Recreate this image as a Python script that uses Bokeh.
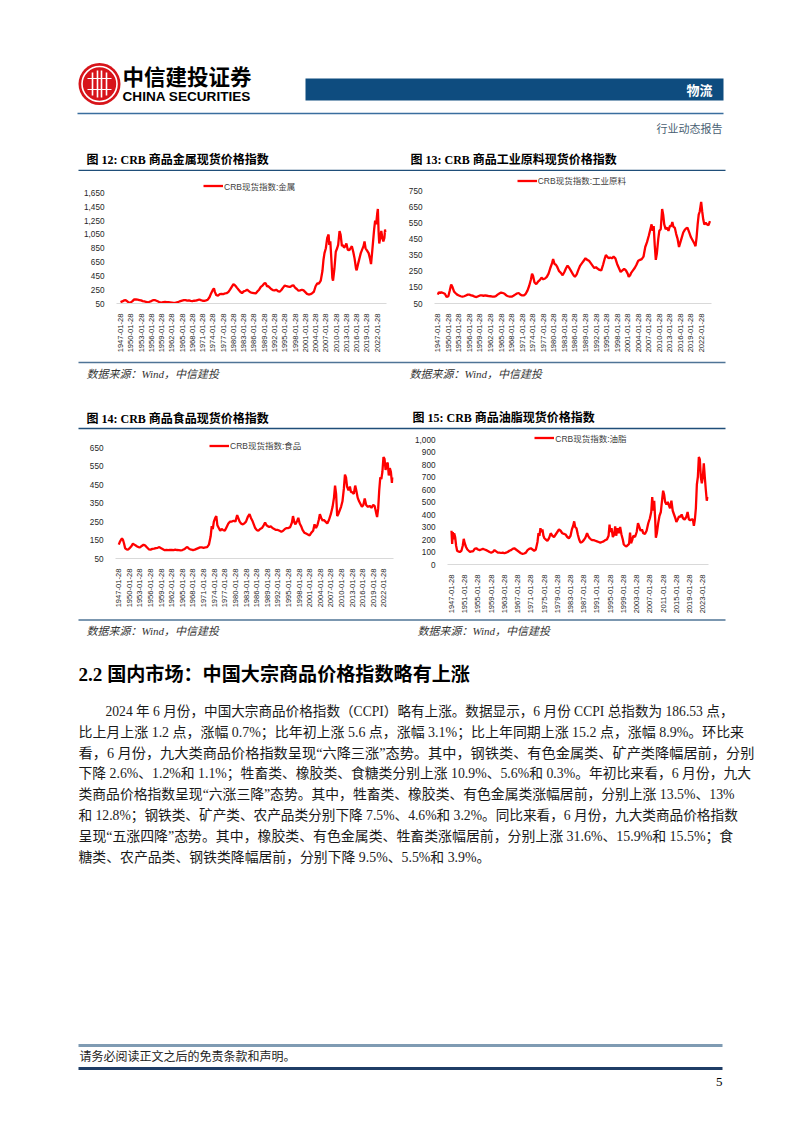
import math
from bokeh.plotting import figure
from bokeh.layouts import column, row
from bokeh.models import Range1d, FixedTicker, Legend, LegendItem, NumeralTickFormatter
from bokeh.core.properties import value
from bokeh.embed import file_html
from bokeh.resources import INLINE

# ---------------- data ----------------
tick_years_3 = [1947, 1950, 1953, 1956, 1959, 1962, 1965, 1968, 1971, 1974, 1977, 1980, 1983,
                1986, 1989, 1992, 1995, 1998, 2001, 2004, 2007, 2010, 2013, 2016, 2019, 2022]
tick_labels_3 = ["1947-01-28", "1950-01-28", "1953-01-28", "1956-01-28", "1959-01-28", "1962-01-28",
                 "1965-01-28", "1968-01-28", "1971-01-28", "1974-01-28", "1977-01-28", "1980-01-28",
                 "1983-01-28", "1986-01-28", "1989-01-28", "1992-01-28", "1995-01-28", "1998-01-28",
                 "2001-01-28", "2004-01-28", "2007-01-28", "2010-01-28", "2013-01-28", "2016-01-28",
                 "2019-01-28", "2022-01-28"]
tick_years_4 = [1947, 1951, 1955, 1959, 1963, 1967, 1971, 1975, 1979, 1983, 1987, 1991, 1995,
                1999, 2003, 2007, 2011, 2015, 2019, 2023]
tick_labels_4 = ["1947-01-28", "1951-01-28", "1955-01-28", "1959-01-28", "1963-01-28", "1967-01-28",
                 "1971-01-28", "1975-01-28", "1979-01-28", "1983-01-28", "1987-01-28", "1991-01-28",
                 "1995-01-28", "1999-01-28", "2003-01-28", "2007-01-28", "2011-01-28", "2015-01-28",
                 "2019-01-28", "2023-01-28"]

metal_yticks = [50, 250, 450, 650, 850, 1050, 1250, 1450, 1650]
industrial_yticks = [50, 150, 250, 350, 450, 550, 650, 750]
food_yticks = [50, 150, 250, 350, 450, 550, 650]
oil_yticks = [0, 100, 200, 300, 400, 500, 600, 700, 800, 900, 1000]

metal_year = [1947.0, 1947.5, 1948.0, 1948.5, 1949.0, 1949.5, 1950.0, 1950.5, 1951.0, 1951.5, 1952.0, 1952.5,
              1953.0, 1953.5, 1954.0, 1954.5, 1955.0, 1955.5, 1956.0, 1956.5, 1957.0, 1957.5, 1958.0, 1958.5,
              1959.0, 1959.5, 1960.0, 1960.5, 1961.0, 1961.5, 1962.0, 1962.5, 1963.0, 1963.5, 1964.0, 1964.5,
              1965.0, 1965.5, 1966.0, 1966.5, 1967.0, 1967.5, 1968.0, 1968.5, 1969.0, 1969.5, 1970.0, 1970.5,
              1971.0, 1971.5, 1972.0, 1972.5, 1973.0, 1973.5, 1974.0, 1974.3, 1974.6, 1975.0, 1975.5, 1976.0,
              1976.5, 1977.0, 1977.5, 1978.0, 1978.5, 1979.0, 1979.5, 1980.0, 1980.3, 1980.7, 1981.0, 1981.5,
              1982.0, 1982.5, 1983.0, 1983.5, 1984.0, 1984.5, 1985.0, 1985.5, 1986.0, 1986.5, 1987.0, 1987.5,
              1988.0, 1988.5, 1989.0, 1989.4, 1989.8, 1990.2, 1990.6, 1991.0, 1991.5, 1992.0, 1992.5, 1993.0,
              1993.5, 1994.0, 1994.5, 1995.0, 1995.5, 1996.0, 1996.5, 1997.0, 1997.5, 1998.0, 1998.5, 1999.0,
              1999.5, 2000.0, 2000.5, 2001.0, 2001.5, 2002.0, 2002.5, 2003.0, 2003.5, 2004.0, 2004.5, 2005.0,
              2005.5, 2006.0, 2006.3, 2006.6, 2007.0, 2007.4, 2007.8, 2008.0, 2008.3, 2008.6, 2008.9, 2009.1,
              2009.5, 2009.9, 2010.3, 2010.6, 2011.0, 2011.3, 2011.7, 2012.0, 2012.3, 2012.7, 2013.0, 2013.4,
              2013.8, 2014.2, 2014.6, 2015.0, 2015.4, 2015.8, 2016.0, 2016.4, 2016.8, 2017.2, 2017.6, 2018.0,
              2018.3, 2018.6, 2019.0, 2019.5, 2019.9, 2020.2, 2020.5, 2020.8, 2021.1, 2021.4, 2021.7, 2022.0,
              2022.2, 2022.4, 2022.6, 2022.9, 2023.2, 2023.5, 2023.8, 2024.1, 2024.3, 2024.5]
metal_value = [70, 80, 95, 100, 80, 60, 65, 85, 110, 108, 105, 100,
               95, 85, 80, 72, 65, 75, 85, 98, 100, 90, 78, 65,
               62, 70, 72, 68, 70, 66, 62, 58, 60, 68, 75, 85,
               92, 98, 100, 92, 95, 88, 85, 90, 92, 100, 108, 98,
               90, 88, 95, 105, 140, 200, 250, 270, 215, 170, 165, 185,
               190, 185, 195, 200, 215, 250, 290, 330, 320, 300, 280, 250,
               220, 200, 225, 235, 250, 230, 210, 205, 200, 195, 225, 250,
               290, 310, 340, 345, 300, 300, 280, 260, 245, 240, 250, 230,
               220, 245, 280, 310, 300, 295, 290, 305, 315, 280, 260, 235,
               240, 250, 240, 215, 190, 180, 185, 200, 220, 300, 340, 340,
               380, 520, 680, 780, 850, 1000, 1050, 900, 950, 700, 420, 380,
               550, 800, 850, 900, 1100, 1050, 880, 900, 860, 880, 920, 830,
               820, 850, 880, 800, 700, 560, 530, 620, 700, 780, 830, 880,
               950, 850, 820, 780, 700, 620, 780, 950, 1120, 1250, 1200, 1350,
               1420, 1100, 920, 1000, 1100, 1000, 950, 1000, 1120, 1080]

industrial_year = [1947.0, 1947.3, 1947.7, 1948.0, 1948.5, 1949.0, 1949.5, 1950.0, 1950.4, 1950.8, 1951.2, 1951.6,
                   1952.0, 1952.5, 1953.0, 1953.5, 1954.0, 1954.5, 1955.0, 1955.5, 1956.0, 1956.5, 1957.0, 1957.5,
                   1958.0, 1958.5, 1959.0, 1959.5, 1960.0, 1960.5, 1961.0, 1961.5, 1962.0, 1962.5, 1963.0, 1963.5,
                   1964.0, 1964.5, 1965.0, 1965.5, 1966.0, 1966.5, 1967.0, 1967.5, 1968.0, 1968.5, 1969.0, 1969.5,
                   1970.0, 1970.5, 1971.0, 1971.5, 1972.0, 1972.5, 1973.0, 1973.5, 1973.8, 1974.1, 1974.5, 1975.0,
                   1975.5, 1976.0, 1976.5, 1977.0, 1977.5, 1978.0, 1978.5, 1979.0, 1979.5, 1979.8, 1980.2, 1980.6,
                   1981.0, 1981.5, 1982.0, 1982.5, 1983.0, 1983.5, 1983.9, 1984.4, 1984.8, 1985.2, 1985.6, 1986.0,
                   1986.5, 1987.0, 1987.5, 1988.0, 1988.5, 1989.0, 1989.5, 1990.0, 1990.5, 1991.0, 1991.5, 1992.0,
                   1992.5, 1993.0, 1993.5, 1994.0, 1994.5, 1994.8, 1995.2, 1995.6, 1996.0, 1996.5, 1997.0, 1997.5,
                   1998.0, 1998.5, 1999.0, 1999.5, 2000.0, 2000.5, 2001.0, 2001.3, 2001.7, 2002.0, 2002.5, 2003.0,
                   2003.5, 2004.0, 2004.5, 2005.0, 2005.5, 2006.0, 2006.5, 2007.0, 2007.4, 2007.8, 2008.1, 2008.4,
                   2008.7, 2009.0, 2009.3, 2009.7, 2010.0, 2010.4, 2010.8, 2011.1, 2011.4, 2011.8, 2012.2, 2012.6,
                   2013.0, 2013.4, 2013.7, 2014.0, 2014.4, 2014.8, 2015.2, 2015.6, 2016.0, 2016.4, 2016.8, 2017.2,
                   2017.6, 2018.0, 2018.5, 2019.0, 2019.5, 2020.0, 2020.3, 2020.6, 2020.9, 2021.2, 2021.5, 2021.9,
                   2022.2, 2022.5, 2022.8, 2023.2, 2023.6, 2024.0, 2024.4]
industrial_value = [105, 120, 115, 120, 115, 110, 90, 95, 130, 168, 150, 125,
                    115, 105, 100, 95, 92, 95, 100, 105, 105, 100, 98, 92,
                    90, 95, 100, 100, 98, 100, 98, 96, 95, 93, 92, 96,
                    105, 112, 118, 115, 110, 100, 95, 92, 92, 98, 105, 112,
                    115, 105, 100, 100, 110, 130, 160, 200, 235, 220, 180, 170,
                    185, 195, 210, 200, 205, 215, 235, 270, 300, 325, 295, 290,
                    275, 250, 240, 225, 245, 270, 285, 270, 255, 240, 225, 215,
                    230, 260, 285, 300, 315, 330, 320, 315, 300, 285, 270, 275,
                    265, 258, 255, 290, 330, 350, 340, 330, 335, 330, 340, 330,
                    295, 270, 245, 255, 265, 255, 235, 215, 225, 240, 255, 270,
                    290, 315, 320, 325, 340, 400, 430, 470, 505, 540, 500, 530,
                    410, 320, 360, 450, 500, 510, 635, 600, 540, 510, 520, 500,
                    530, 530, 555, 525, 520, 480, 450, 400, 430, 460, 490, 505,
                    515, 520, 490, 460, 440, 420, 405, 460, 540, 600, 620, 680,
                    620, 570, 540, 550, 540, 535, 560]

food_year = [1947.0, 1947.3, 1947.6, 1947.9, 1948.2, 1948.5, 1948.8, 1949.2, 1949.6, 1950.0, 1950.5, 1951.0,
             1951.4, 1951.8, 1952.2, 1952.6, 1953.0, 1953.5, 1954.0, 1954.5, 1955.0, 1955.5, 1956.0, 1956.5,
             1957.0, 1957.5, 1958.0, 1958.5, 1959.0, 1959.5, 1960.0, 1960.5, 1961.0, 1961.5, 1962.0, 1962.5,
             1963.0, 1963.5, 1964.0, 1964.5, 1965.0, 1965.5, 1966.0, 1966.4, 1966.8, 1967.2, 1967.6, 1968.0,
             1968.5, 1969.0, 1969.5, 1970.0, 1970.5, 1971.0, 1971.5, 1972.0, 1972.5, 1973.0, 1973.3, 1973.6,
             1973.9, 1974.3, 1974.6, 1974.9, 1975.3, 1975.7, 1976.1, 1976.5, 1977.0, 1977.5, 1978.0, 1978.5,
             1979.0, 1979.5, 1980.0, 1980.5, 1980.8, 1981.2, 1981.6, 1982.0, 1982.5, 1983.0, 1983.5, 1984.0,
             1984.4, 1984.8, 1985.2, 1985.6, 1986.0, 1986.5, 1987.0, 1987.5, 1988.0, 1988.4, 1988.8, 1989.2,
             1989.6, 1990.0, 1990.5, 1991.0, 1991.5, 1992.0, 1992.5, 1993.0, 1993.5, 1994.0, 1994.5, 1995.0,
             1995.5, 1996.0, 1996.3, 1996.7, 1997.0, 1997.5, 1997.8, 1998.2, 1998.6, 1999.0, 1999.5, 2000.0,
             2000.5, 2001.0, 2001.5, 2002.0, 2002.4, 2002.8, 2003.2, 2003.6, 2003.9, 2004.3, 2004.7, 2005.0,
             2005.5, 2006.0, 2006.5, 2007.0, 2007.5, 2007.9, 2008.2, 2008.5, 2008.8, 2009.1, 2009.5, 2009.9,
             2010.3, 2010.7, 2011.0, 2011.3, 2011.6, 2012.0, 2012.4, 2012.7, 2013.0, 2013.5, 2013.9, 2014.2,
             2014.6, 2015.0, 2015.4, 2015.8, 2016.2, 2016.6, 2017.0, 2017.5, 2018.0, 2018.5, 2019.0, 2019.4,
             2019.8, 2020.1, 2020.4, 2020.7, 2021.0, 2021.3, 2021.6, 2021.9, 2022.2, 2022.5, 2022.8, 2023.1,
             2023.4, 2023.7, 2024.0, 2024.3, 2024.5]
food_value = [125, 140, 150, 160, 150, 130, 105, 100, 98, 105, 115, 130,
              125, 120, 115, 112, 110, 118, 125, 120, 110, 100, 98, 102,
              103, 106, 108, 112, 105, 100, 95, 96, 95, 97, 96, 95,
              98, 96, 95, 94, 96, 100, 108, 112, 104, 100, 98, 96,
              98, 102, 106, 110, 110, 108, 110, 112, 125, 170, 225, 210,
              250, 270, 280, 230, 215, 200, 210, 205, 200, 220, 240, 250,
              250, 255, 250, 285, 270, 250, 240, 235, 240, 250, 275, 290,
              270, 255, 235, 215, 205, 200, 210, 215, 230, 245, 230, 225,
              220, 225, 215, 210, 205, 205, 200, 195, 200, 210, 215, 215,
              220, 245, 280, 245, 235, 255, 270, 240, 225, 205, 190, 185,
              180, 175, 190, 200, 235, 215, 230, 260, 290, 270, 255, 260,
              250, 240, 260, 290, 330, 380, 445, 400, 280, 290, 310, 330,
              360, 430, 505, 490, 440, 420, 440, 410, 410, 400, 445, 420,
              380, 360, 345, 330, 340, 375, 340, 330, 335, 325, 340, 335,
              300, 275, 320, 420, 490, 480, 520, 600, 590, 530, 560, 570,
              500, 540, 520, 460, 490]

oil_year = [1947.0, 1947.2, 1947.4, 1947.6, 1947.8, 1948.1, 1948.4, 1948.7, 1949.0, 1949.5, 1950.0, 1950.4,
            1950.7, 1951.0, 1951.4, 1951.8, 1952.2, 1952.6, 1953.0, 1953.5, 1954.0, 1954.5, 1955.0, 1955.5,
            1956.0, 1956.5, 1957.0, 1957.5, 1958.0, 1958.5, 1959.0, 1959.5, 1960.0, 1960.5, 1961.0, 1961.5,
            1962.0, 1962.5, 1963.0, 1963.5, 1964.0, 1964.5, 1965.0, 1965.5, 1966.0, 1966.5, 1967.0, 1967.5,
            1968.0, 1968.5, 1969.0, 1969.5, 1970.0, 1970.5, 1971.0, 1971.5, 1972.0, 1972.5, 1973.0, 1973.3,
            1973.6, 1973.9, 1974.2, 1974.5, 1974.8, 1975.1, 1975.5, 1976.0, 1976.5, 1977.0, 1977.5, 1978.0,
            1978.5, 1979.0, 1979.5, 1980.0, 1980.5, 1981.0, 1981.5, 1982.0, 1982.5, 1983.0, 1983.4, 1983.8,
            1984.1, 1984.4, 1984.8, 1985.2, 1985.6, 1986.0, 1986.5, 1987.0, 1987.5, 1988.0, 1988.4, 1988.8,
            1989.2, 1989.6, 1990.0, 1990.5, 1991.0, 1991.5, 1992.0, 1992.5, 1993.0, 1993.5, 1994.0, 1994.5,
            1994.8, 1995.0, 1995.4, 1995.8, 1996.2, 1996.5, 1996.8, 1997.2, 1997.6, 1998.0, 1998.4, 1998.8,
            1999.1, 1999.5, 1999.9, 2000.3, 2000.7, 2001.0, 2001.3, 2001.7, 2002.0, 2002.5, 2003.0, 2003.4,
            2003.8, 2004.2, 2004.6, 2005.0, 2005.5, 2006.0, 2006.5, 2007.0, 2007.4, 2007.7, 2008.0, 2008.3,
            2008.6, 2008.8, 2009.1, 2009.5, 2009.9, 2010.3, 2010.7, 2011.0, 2011.3, 2011.6, 2012.0, 2012.4,
            2012.8, 2013.1, 2013.5, 2013.9, 2014.3, 2014.7, 2015.0, 2015.4, 2015.8, 2016.2, 2016.6, 2017.0,
            2017.5, 2018.0, 2018.4, 2018.8, 2019.2, 2019.6, 2020.0, 2020.3, 2020.6, 2020.9, 2021.2, 2021.5,
            2021.8, 2022.1, 2022.4, 2022.7, 2023.0, 2023.3, 2023.6, 2023.9, 2024.2, 2024.5]
oil_value = [270, 165, 260, 200, 250, 220, 150, 110, 105, 100, 110, 150,
             205, 170, 140, 120, 110, 100, 105, 105, 125, 130, 120, 115,
             120, 125, 120, 115, 108, 100, 95, 100, 115, 105, 95, 95,
             92, 95, 90, 95, 100, 110, 115, 125, 130, 120, 110, 100,
             90, 85, 88, 95, 115, 125, 130, 120, 110, 120, 180, 250,
             230, 290, 260, 280, 230, 210, 200, 190, 210, 250, 230, 220,
             240, 260, 280, 270, 250, 245, 240, 220, 210, 230, 280, 310,
             345, 300, 290, 240, 200, 175, 180, 195, 215, 250, 225, 210,
             200, 195, 195, 190, 185, 180, 175, 180, 185, 195, 200, 230,
             320, 260, 290, 220, 240, 305, 230, 290, 250, 300, 240, 200,
             160, 150, 145, 155, 165, 255, 170, 200, 230, 220, 260, 330,
             300, 270, 280, 250, 245, 270, 330, 370, 420, 540, 430, 510,
             360, 215, 250, 330, 390, 420, 520, 590, 560, 500, 480, 500,
             470, 450, 510, 430, 400, 370, 340, 360, 385, 380, 400, 370,
             360, 380, 420, 360, 355, 360, 360, 310, 360, 450, 640, 700,
             860, 840, 700, 650, 700, 810, 700, 600, 510, 540]

body_lines = [
    "2024 年 6 月份，中国大宗商品价格指数（CCPI）略有上涨。数据显示，6 月份 CCPI 总指数为 186.53 点，",
    "比上月上涨 1.2 点，涨幅 0.7%；比年初上涨 5.6 点，涨幅 3.1%；比上年同期上涨 15.2 点，涨幅 8.9%。环比来",
    "看，6 月份，九大类商品价格指数呈现“六降三涨”态势。其中，钢铁类、有色金属类、矿产类降幅居前，分别",
    "下降 2.6%、1.2%和 1.1%；牲畜类、橡胶类、食糖类分别上涨 10.9%、5.6%和 0.3%。年初比来看，6 月份，九大",
    "类商品价格指数呈现“六涨三降”态势。其中，牲畜类、橡胶类、有色金属类涨幅居前，分别上涨 13.5%、13%",
    "和 12.8%；钢铁类、矿产类、农产品类分别下降 7.5%、4.6%和 3.2%。同比来看，6 月份，九大类商品价格指数",
    "呈现“五涨四降”态势。其中，橡胶类、有色金属类、牲畜类涨幅居前，分别上涨 31.6%、15.9%和 15.5%；食",
    "糖类、农产品类、钢铁类降幅居前，分别下降 9.5%、5.5%和 3.9%。",
]
# per-line type size (px) so that each justified line fills the text width as in the reference
body_sizes = ["13.6px", "13.95px", "14.2px", "13.8px", "13.8px", "13.65px", "13.9px", "13.85px"]

# ---------------- styles ----------------
SANS = "'Liberation Sans', 'Noto Sans CJK SC'"
SERIF = "'Liberation Serif', 'Noto Sans CJK SC'"
CJK = "'Noto Sans CJK SC'"
RED = "#FF0000"
NAVY = "#1F4E79"
PAGE_W = 802


def canvas(y0, y1):
    p = figure(width=PAGE_W, height=y1 - y0, x_range=Range1d(0, PAGE_W), y_range=Range1d(y1, y0),
               x_axis_location=None, y_axis_location=None, output_backend="svg",
               toolbar_location=None, min_border=0)
    p.grid.visible = False
    p.outline_line_color = None
    return p


def put_text(p, x, y, s, size, font=SERIF, color="#000000", style="normal", align="left"):
    p.text(x=[x], y=[y], text=[s], text_font=value(font), text_font_size=size,
           text_font_style=style, text_color=color, text_align=align, text_baseline="middle")


def hline(p, x0, x1, y, color, width):
    p.line(x=[x0, x1], y=[y, y], line_color=color, line_width=width)


def chart(w, h, bl, br, bt, bb, xr, yr, xs, ys, yticks, xticks, xlabels, label, leg_xy):
    p = figure(width=w, height=h, x_range=Range1d(*xr), y_range=Range1d(*yr),
               output_backend="svg", toolbar_location=None,
               min_border_left=bl, min_border_right=br, min_border_top=bt, min_border_bottom=bb)
    p.frame_align = False
    p.grid.visible = False
    p.outline_line_color = None
    r = p.line(xs, ys, line_color=RED, line_width=2.3)
    xa = p.xaxis[0]
    xa.ticker = FixedTicker(ticks=xticks)
    xa.major_label_overrides = dict(zip(xticks, xlabels))
    xa.major_label_orientation = math.pi / 2
    xa.axis_line_color = "#D9D9D9"
    xa.axis_line_width = 1
    xa.major_tick_line_color = None
    xa.minor_tick_line_color = None
    xa.major_label_standoff = 4
    xa.major_label_text_font = "Liberation Sans"
    xa.major_label_text_font_size = "7.6px"
    xa.major_label_text_color = "#262626"
    ya = p.yaxis[0]
    ya.ticker = FixedTicker(ticks=yticks)
    ya.formatter = NumeralTickFormatter(format="0,0")
    ya.axis_line_color = None
    ya.major_tick_line_color = None
    ya.minor_tick_line_color = None
    ya.major_label_standoff = 6
    ya.major_label_text_font = "Liberation Sans"
    ya.major_label_text_font_size = "8.2px"
    ya.major_label_text_color = "#262626"
    leg = Legend(items=[LegendItem(label=label, renderers=[r])], location=leg_xy,
                 glyph_width=20, glyph_height=9, label_height=9, label_standoff=1,
                 padding=0, spacing=0, margin=0, border_line_color=None,
                 background_fill_alpha=0, label_text_font=SANS, label_text_line_height=1.0,
                 label_text_font_size="8.5px", label_text_color="#404040")
    p.add_layout(leg)
    return p


# ---------------- header & chart titles (page y 0..171) ----------------
top = canvas(0, 171)
top.circle(x=[99], y=[83.5], radius=21, fill_color="#D7141A", line_color=None)
top.circle(x=[99], y=[83.5], radius=17.5, fill_color=None, line_color="white", line_width=1.6)
top.segment(x0=[92, 97, 101, 106], y0=[72, 70, 70, 72], x1=[92, 97, 101, 106], y1=[95, 97, 97, 95],
            line_color="white", line_width=1.6)
top.segment(x0=[87, 87], y0=[78, 89], x1=[111, 111], y1=[78, 89], line_color="white", line_width=1.2)
put_text(top, 122, 75, "中信建投证券", "21.5px", font=CJK, style="bold")
put_text(top, 122, 95.5, "CHINA SECURITIES", "13.6px", font="Liberation Sans", style="bold")
top.quad(left=[305], right=[723], top=[78], bottom=[100], fill_color="#0E4C7F", line_color=None)
put_text(top, 712, 89, "物流", "13px", font=CJK, color="white", style="bold", align="right")
hline(top, 77, 723, 113, "#3A6E9E", 1.5)
put_text(top, 722, 127, "行业动态报告", "11px", font=CJK, color="#4A5F73", align="right")
put_text(top, 86, 159, "图 12: CRB 商品金属现货价格指数", "12px", style="bold")
put_text(top, 410, 159, "图 13: CRB 商品工业原料现货价格指数", "12px", style="bold")
hline(top, 78, 725, 170, NAVY, 1.6)

# ---------------- row 1 charts (page y 171..355) ----------------
c12 = chart(400, 184, 116, 14, 0, 51, (1945.83, 2024.72), (50, 1962.0), metal_year, metal_value,
            metal_yticks, tick_years_3, tick_labels_3, "CRB现货指数:金属", (87, 111.5))
c13 = chart(402, 184, 34, 91, 0, 52, (1946.06, 2024.84), (50, 867.7), industrial_year, industrial_value,
            industrial_yticks, tick_years_3, tick_labels_3, "CRB现货指数:工业原料", (82.7, 116.8))

# ---------------- sources & titles (page y 355..431) ----------------
mid = canvas(355, 431)
hline(mid, 78, 725, 362, "#4F7496", 1.3)
put_text(mid, 86, 373.5, "数据来源：Wind，中信建投", "11px", color="#333333", style="italic")
put_text(mid, 409, 373.5, "数据来源：Wind，中信建投", "11px", color="#333333", style="italic")
put_text(mid, 86, 418, "图 14: CRB 商品食品现货价格指数", "12px", style="bold")
put_text(mid, 412, 417.5, "图 15: CRB 商品油脂现货价格指数", "12px", style="bold")
hline(mid, 78, 725, 428, NAVY, 1.6)

# ---------------- row 2 charts (page y 431..618) ----------------
c14 = chart(400, 187, 115, 7, 0, 60, (1946.07, 2024.74), (50, 738.3), food_year, food_value,
            food_yticks, tick_years_3, tick_labels_3, "CRB现货指数:食品", (94, 106.8))
c15 = chart(402, 187, 47, 94, 0, 54, (1945.79, 2024.72), (0, 1064), oil_year, oil_value,
            oil_yticks, tick_years_4, tick_labels_4, "CRB现货指数:油脂", (87.3, 120.2))

# ---------------- body text & footer (page y 618..1133) ----------------
bot = canvas(618, 1133)
hline(bot, 78, 725, 619.5, "#4F7496", 1.3)
put_text(bot, 86, 630.5, "数据来源：Wind，中信建投", "11px", color="#333333", style="italic")
put_text(bot, 417, 630.5, "数据来源：Wind，中信建投", "11px", color="#333333", style="italic")
put_text(bot, 78, 674, "2.2 国内市场：中国大宗商品价格指数略有上涨", "19.1px", style="bold")
for i, ln in enumerate(body_lines):
    put_text(bot, 105 if i == 0 else 78, 711 + 20.8 * i, ln, body_sizes[i], color="#1A1A1A")
hline(bot, 78, 722, 1045, "#7F9BB3", 3)
put_text(bot, 79, 1056.5, "请务必阅读正文之后的免责条款和声明。", "12px", color="#222222")
hline(bot, 78, 722, 1068, "#1F3D66", 3)
put_text(bot, 722, 1081, "5", "13px", font="Liberation Serif", align="right")

layout = column(top, row(c12, c13), mid, row(c14, c15), bot)
open("out.html", "w").write(file_html(layout, INLINE))
